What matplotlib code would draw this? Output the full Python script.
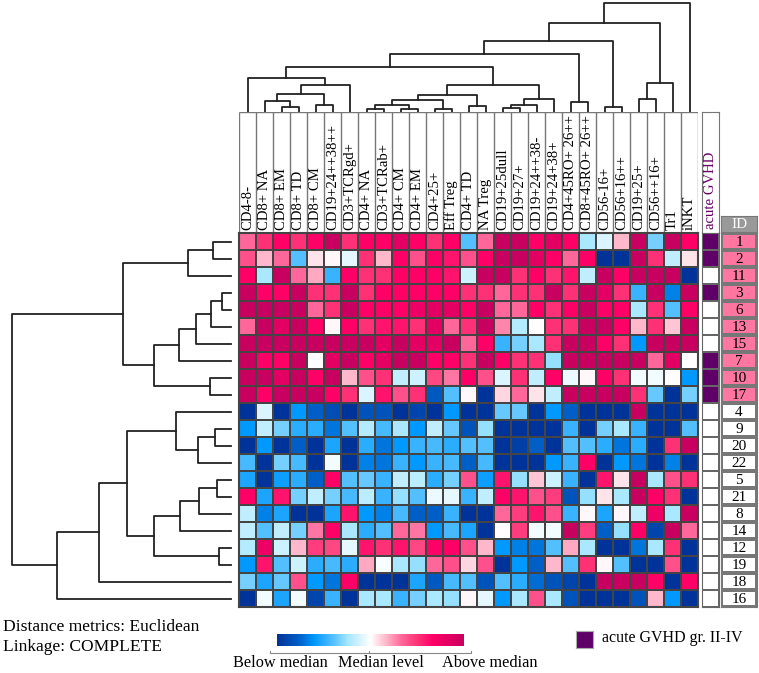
import numpy as np
import matplotlib
matplotlib.use("Agg")
import matplotlib.pyplot as plt
from matplotlib.colors import LinearSegmentedColormap, ListedColormap

plt.rcParams["font.family"] = ["Liberation Serif", "DejaVu Serif"]

markers = ["CD4-8-", "CD8+ NA", "CD8+ EM", "CD8+ TD", "CD8+ CM", "CD19+24++38++",
           "CD3+TCRgd+", "CD4+ NA", "CD3+TCRab+", "CD4+ CM", "CD4+ EM", "CD4+25+",
           "Eff Treg", "CD4+ TD", "NA Treg", "CD19+25dull", "CD19+27+", "CD19+24++38-",
           "CD19+24+38+", "CD4+45RO+ 26++", "CD8+45RO+ 26++", "CD56-16+", "CD56+16++",
           "CD19+25+", "CD56++16+", "Tr1", "iNKT"]
patient_ids = [1, 2, 11, 3, 6, 13, 15, 7, 10, 17, 4, 9, 20, 22, 5, 21, 8, 14, 12, 19, 18, 16]
gvhd = [1, 1, 0, 1, 0, 0, 0, 1, 1, 1, 0, 0, 0, 0, 0, 0, 0, 0, 0, 0, 0, 0]
id_group = [1] * 10 + [0] * 12

# relative level vs median, -3 (far below) .. +3 (far above)
values = [
    [1, 1.5, 2, 1.5, 2, 3, 1.5, 2, 2, 2.5, 2, 1.5, 2, -1.2, 1, 3, 3, 2, 2.5, 2, -0.7, -0.3, 0.5, 3, -1, 3, 2],
    [1.2, 0.5, 1, -1.2, 0.2, 0.05, -0.2, 1.5, 0.5, 2, 1.2, 2, 1.8, 1.2, 2, 3, 3, 2.5, 2, 1, 2, -3, -3, 3, 1.5, -0.5, 0.2],
    [2, -0.7, 3, 1, 0.6, -1.4, 2, 1.5, 1.5, 2, 2, 2, 1.8, -0.4, 3, 3, 1.5, 2, 1.5, 1.8, -0.5, 3, 2, 3, 3, 3, -3],
    [3, 2, 2, 3, 1.5, 1.5, 3, 1.5, 2, 2, 2, 2, 2, 1.5, 1.5, 1, 1.5, 1.5, 3, 1.5, 3, 2.5, 1.5, -1.4, 3, -2, 3],
    [3, 3, 3, 3, 1, 1.5, 3, 2, 2, 2, 2.3, 2.5, 2.5, 2, 3, 1, 1, 2, 1.5, 2, 3, 2, 2, -0.7, 1.5, -1.2, 2],
    [1, 3, 2.5, 3, 2, 0.05, 2, 1.5, 1.8, 1.8, 1.5, 2.5, 1, 1.5, 3, 0.8, -0.6, 0, 1.5, 1.5, 3, 3, 2, 0.5, 1.5, 0.4, 3],
    [3, 3, 3, 3, 3, 3, 3, 3, 2.5, 3, 2.5, 2.5, 3, 1, 2, -1.4, -1, -0.7, 1.5, 3, 3, 2, 1.5, -1.8, 3, 3, 3],
    [3, 2, 2, 3, 0, 2.5, 3, 2, 2.5, 3, 3, 2, 2, 1.5, 3, 2, 1.5, 1.5, -0.8, 3, 3, 3, 3, 3, 1, 2.5, 0],
    [3, 3, 2.5, 3, 2, 3, 0.5, 1.2, 1.5, -0.5, -0.4, 1.3, 0.9, 2, 1.2, -0.3, 1.5, -0.5, 2, -0.15, 0.05, 2, 1.5, -0.1, -0.1, 0, -1.8],
    [3, 2, 3, 3, 3, 2, 1.5, -0.3, 1.8, 1.2, 1.5, -2.4, -1.2, 0.05, -3, 0.3, 1, 0.2, -0.5, 3, 3, 3, 3, 1.5, -1.1, -3, -1],
    [-3, -0.3, -3, -1.8, -2.3, -2.6, -3, -2.5, -2.5, -3, -2.7, -3, -1.8, -3, -3, -1.1, -1.1, -3, -1.8, -2.3, -3, -3, -3, 3, -3, -3, -3],
    [-1.8, -0.5, -1, -1.5, -1.5, -2.1, -1.2, -0.6, -1.3, -0.7, -1.8, -0.5, -1.1, -2.5, -0.8, -3, -3, -3, -3, -1.4, -3, -1, -0.7, -1.4, -3, -3, -1.2],
    [-3, -1.8, -3, -2.3, -3, -1.6, -3, -1.5, -2.1, -1.8, -1.4, -1.3, -1.5, -1.2, -1.2, -3, -2.8, -2.3, -3, -1.2, -1.2, -1.5, -2.1, -1.5, -3, 1.5, 3],
    [-1.3, -3, -1, -1.3, -3, -0.1, -3, -2, -2.1, -1.4, -1.8, -1.4, -1.3, -2.3, -1.3, -3, -3, -3, -1.8, -1.4, 2, -3, -1.8, -2.1, -3, -2, -3],
    [-1.6, -3, -1.7, -1.5, -2.3, 2, -1.2, -1.1, -1.4, -0.5, -0.55, -1.5, -1, 1.2, -1.7, 1.8, -0.8, 0.4, -0.4, -1.4, -3, 1.8, 0.2, 3, -0.7, 1.2, 1.5],
    [2, -1.6, 1.8, -1, -0.5, -1, -1.3, -0.55, -1.4, -0.8, -1.2, -0.15, -0.2, -1.4, -0.5, 2, 1.8, 1.2, 1.4, -2.5, -0.8, 0.2, -0.7, 3, 2, 1.5, -3],
    [-0.5, -2, -1.6, -3, -3, -1.6, 1.8, -1.8, -2, -1.3, -2.3, -2.3, -1.4, -3, -3, 1, 1.4, 1.8, 1.2, -1.4, 0.05, -1.6, 0.05, -0.5, 2.3, -0.7, 3],
    [-0.5, -1.2, -0.5, -1, 0.9, 2, -0.7, -1.5, -1.2, 1, 0.9, -1.8, -1.3, -1.6, -3, 0, 1.4, -0.1, -0.1, 3, 1.4, -2.3, -0.8, 2, -2.7, 3, 1],
    [-0.6, 2.3, -0.4, 0.5, 1.4, 1.3, -0.2, 1.8, 1.5, 1.8, 1.3, 2, 2, 1.2, 0.5, -1.8, -2, -2.1, -1.2, 0.6, -0.7, -3, -3, -2.1, -0.7, 1.5, -3],
    [-1.8, 1.8, -1.2, -0.4, -1.5, -1.3, -1.5, 0.6, -0.05, -0.7, -0.8, 1, 1.2, 0.3, 1.2, -3, -1.8, -2.3, 0.5, -1.2, 1.5, 0.05, -1.2, -3, -3, 1.2, -3],
    [-1, -1.6, -1.1, 1.2, -1.8, -2.1, 2, -3, -3, -3, -1.6, -2.4, -1.3, -1.2, -2.5, -1.2, -1.5, -2.2, -2.5, -2.7, -3, 3, 3, 3, 2, -3, 2],
    [-3, -0.1, -1.6, -0.1, -2.7, -1.4, -3, -0.7, -0.7, -1.4, -1, -0.7, -0.8, 0.05, -0.2, -1.8, -0.7, 1.2, -0.7, -2.5, -3, -3, -3, -2.5, 0.5, -1.8, -3],
]

# linkage (scipy-style indices: leaves first, then merges), heights in arbitrary units
col_merges = [
    (2, 3, 14), (1, 27, 34), (4, 5, 20), (28, 29, 55), (30, 6, 81), (0, 31, 102),
    (7, 8, 8), (9, 10, 10), (33, 34, 20), (11, 12, 8), (35, 36, 35), (13, 14, 18),
    (37, 38, 51), (15, 16, 11), (40, 17, 22), (41, 18, 40), (39, 42, 80), (32, 43, 136),
    (19, 20, 31), (44, 45, 173), (21, 22, 15), (46, 47, 212), (23, 24, 40), (49, 25, 88),
    (48, 50, 266), (51, 26, 328),
]
row_merges = [
    (0, 1, 52), (22, 2, 127), (3, 4, 26), (24, 5, 59), (25, 6, 105), (26, 7, 155),
    (8, 9, 62), (27, 28, 230), (23, 29, 324), (11, 12, 47), (31, 13, 98), (10, 32, 164),
    (14, 15, 42), (34, 16, 94), (35, 17, 152), (18, 19, 36), (36, 37, 230), (33, 38, 310),
    (39, 20, 396), (40, 21, 520), (30, 41, 655),
]

cmap = LinearSegmentedColormap.from_list("med", [
    (0.0, "#003399"), (0.1167, "#0060C8"), (0.2, "#0099FF"), (0.3, "#55C0FF"),
    (0.3833, "#A8E8FF"), (0.5, "#FFFFFF"), (0.5833, "#FFB8CC"), (0.6667, "#FF6699"),
    (0.75, "#FF3377"), (0.8333, "#FF0066"), (1.0, "#C8005F")])

W, H = 759, 673


def rect(x0, y0, x1, y1):
    return [x0 / W, 1 - y1 / H, (x1 - x0) / W, (y1 - y0) / H]


def dendro(merges, n):
    pos = {i: i + 0.5 for i in range(n)}
    hgt = {i: 0.0 for i in range(n)}
    segs = []
    for k, (a, b, h) in enumerate(merges):
        segs.append(([pos[a], pos[a], pos[b], pos[b]], [hgt[a], h, h, hgt[b]]))
        pos[n + k] = (pos[a] + pos[b]) / 2
        hgt[n + k] = h
    return segs


fig = plt.figure(figsize=(W / 100, H / 100), dpi=100)
nr, nc = len(patient_ids), len(markers)
grid = "#444444"

# top dendrogram
ax_top = fig.add_axes(rect(239, 0, 698, 112))
for xs, ys in dendro(col_merges, nc):
    ax_top.plot(xs, ys, color="#222222", lw=1.3, clip_on=False)
ax_top.set_xlim(0, nc)
ax_top.set_ylim(0, 336)
ax_top.axis("off")

# column label boxes
ax_lab = fig.add_axes(rect(239, 112, 698, 233))
ax_lab.vlines(np.arange(nc + 1), 0, 1, color="#777777", lw=1)
ax_lab.hlines(1, 0, nc, color="#777777", lw=1)
for i, m in enumerate(markers):
    ax_lab.text(i + 0.5, 0.025, m, rotation=90, ha="center", va="bottom", fontsize=10.6)
ax_lab.set_xlim(0, nc)
ax_lab.set_ylim(0, 1)
ax_lab.axis("off")

# heatmap
ax_hm = fig.add_axes(rect(239, 233, 698, 607))
mesh = ax_hm.pcolormesh(np.array(values), cmap=cmap, vmin=-3, vmax=3,
                        edgecolors=grid, linewidth=1.3)
ax_hm.set_xlim(0, nc)
ax_hm.set_ylim(nr, 0)
ax_hm.set_xticks([])
ax_hm.set_yticks([])
for s in ax_hm.spines.values():
    s.set_color(grid)
    s.set_linewidth(1.5)

# left dendrogram
ax_left = fig.add_axes(rect(0, 233, 230.7, 607))
for xs, ys in dendro(row_merges, nr):
    ax_left.plot(ys, xs, color="#222222", lw=1.3, clip_on=False)
ax_left.set_xlim(692, 0)
ax_left.set_ylim(nr, 0)
ax_left.axis("off")

# acute GVHD column
ax_gl = fig.add_axes(rect(702, 112, 719, 233))
ax_gl.text(0.5, 0.03, "acute GVHD", rotation=90, ha="center", va="bottom",
           fontsize=10.6, color="#660066")
ax_gl.set_xticks([])
ax_gl.set_yticks([])
for s in ax_gl.spines.values():
    s.set_color("#777777")

ax_gv = fig.add_axes(rect(702, 233, 719, 607))
ax_gv.pcolormesh(np.array(gvhd).reshape(-1, 1), cmap=ListedColormap(["white", "#5E0066"]),
                 vmin=0, vmax=1, edgecolors="#666666", linewidth=1.2)
ax_gv.set_ylim(nr, 0)
ax_gv.set_xticks([])
ax_gv.set_yticks([])
for s in ax_gv.spines.values():
    s.set_color("#666666")

# ID column
ax_ih = fig.add_axes(rect(721, 216, 757, 232))
ax_ih.set_facecolor("#999999")
ax_ih.text(0.5, 0.5, "ID", ha="center", va="center", color="white", fontsize=11)
ax_ih.set_xticks([])
ax_ih.set_yticks([])
for s in ax_ih.spines.values():
    s.set_color("#777777")

ax_id = fig.add_axes(rect(721, 233, 757, 607))
ax_id.pcolormesh(np.array(id_group).reshape(-1, 1), cmap=ListedColormap(["white", "#FF77A0"]),
                 vmin=0, vmax=1, edgecolors="#777777", linewidth=1.5)
for r, pid in enumerate(patient_ids):
    ax_id.text(0.5, r + 0.55, str(pid), ha="center", va="center", fontsize=11)
ax_id.set_ylim(nr, 0)
ax_id.set_xticks([])
ax_id.set_yticks([])
for s in ax_id.spines.values():
    s.set_color("#777777")

# colour key
ax_cb = fig.add_axes(rect(277, 634, 464, 646))
cb = fig.colorbar(mesh, cax=ax_cb, orientation="horizontal")
cb.set_ticks([])
cb.outline.set_visible(False)
ax_cb.plot([-0.04, -0.04, 1.04, 1.04], [-0.45, -0.6, -0.6, -0.45], color="#888888",
           lw=0.8, transform=ax_cb.transAxes, clip_on=False)
ax_cb.plot([0.49, 0.49], [-0.6, -0.45], color="#888888", lw=0.8,
           transform=ax_cb.transAxes, clip_on=False)
for x, t in [(0.02, "Below median"), (0.556, "Median level"), (1.14, "Above median")]:
    ax_cb.text(x, -1.45, t, ha="center", va="center", fontsize=11.7, transform=ax_cb.transAxes)

fig.text(3 / W, 1 - 627 / H, "Distance metrics: Euclidean", ha="left", va="center", fontsize=12.6)
fig.text(3 / W, 1 - 647 / H, "Linkage: COMPLETE", ha="left", va="center", fontsize=12.6)

ax_lg = fig.add_axes(rect(576, 631, 593, 648))
ax_lg.set_facecolor("#5E0066")
ax_lg.set_xticks([])
ax_lg.set_yticks([])
for s in ax_lg.spines.values():
    s.set_color("#aaaaaa")
fig.text(602 / W, 1 - 638 / H, "acute GVHD gr. II-IV", ha="left", va="center", fontsize=11.5)

fig.savefig("out.png", dpi=100)
